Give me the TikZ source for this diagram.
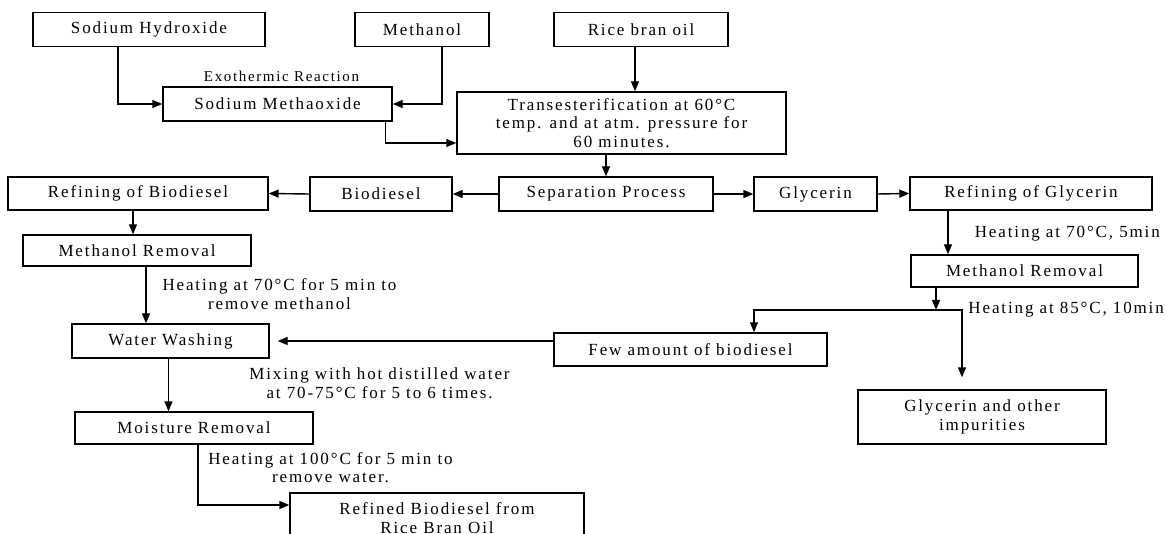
\documentclass[tikz,border=0pt]{standalone}
\usepackage{fontspec}
\setmainfont{Liberation Serif}[LetterSpace=11]
\usetikzlibrary{arrows.meta}

\begin{document}
\begin{tikzpicture}[
    x=1pt, y=-1pt,
    every node/.style={font=\fontsize{17}{18.5}\selectfont},
    box/.style={draw, line width=1.4pt, minimum height=34pt, inner sep=2pt, align=center},
    note/.style={align=center, inner sep=0pt},
    flow/.style={draw, line width=1.4pt, -{Triangle[length=10pt,width=8pt]}}
]
\useasboundingbox (0,0) rectangle (1165,534);
\clip (0,0) rectangle (1165,534);

% inputs
\node[box, minimum width=232pt] (naoh) at (149,29.5) {Sodium Hydroxide};
\node[box, minimum width=134pt] (meoh) at (422,29.5) {Methanol};
\node[box, minimum width=174pt] (oil) at (641,29.5) {Rice bran oil};
\node[box, minimum width=229pt] (meth) at (277.5,104) {Sodium Methaoxide};
\node[note, font=\fontsize{15}{17}\selectfont] (exo) at (281.5,76) {Exothermic Reaction};
\node[box, minimum width=329pt, minimum height=62pt] (trans) at (621.5,123)
    {Transesterification at 60°C\\temp. and at atm. pressure for\\60 minutes.};

% separation row
\node[box, minimum width=214pt] (sep) at (606,194) {Separation Process};
\node[box, minimum width=142pt] (bio) at (381,194) {Biodiesel};
\node[box, minimum width=260pt, minimum height=33pt] (refb) at (138,193.5) {Refining of Biodiesel};
\node[box, minimum width=123pt] (glyc) at (815.5,194) {Glycerin};
\node[box, minimum width=242pt, minimum height=33pt] (refg) at (1031,193.5) {Refining of Glycerin};

% biodiesel side
\node[box, minimum width=228pt, minimum height=31pt] (mrl) at (137,250.5) {Methanol Removal};
\node[note] (heat1) at (279.5,294) {Heating at 70°C for 5 min to\\remove methanol};
\node[box, minimum width=197pt] (wash) at (170.5,341) {Water Washing};
\node[note] (mix) at (379.5,383) {Mixing with hot distilled water\\at 70-75°C for 5 to 6 times.};
\node[box, minimum width=238pt, minimum height=32pt] (moist) at (194,428) {Moisture Removal};
\node[note] (heat2) at (330.5,467.5) {Heating at 100°C for 5 min to\\remove water.};
\node[box, minimum width=294pt, minimum height=50pt] (final) at (437,518)
    {Refined Biodiesel from\\Rice Bran Oil};

% glycerin side
\node[note, anchor=east] (heat3) at (1160,234) {Heating at 70°C, 5min};
\node[box, minimum width=227pt, minimum height=32pt] (mrr) at (1024.5,271) {Methanol Removal};
\node[note, anchor=east] (heat4) at (1164,310) {Heating at 85°C, 10min};
\node[box, minimum width=273pt, minimum height=33pt] (few) at (690.5,349.5) {Few amount of biodiesel};
\node[box, minimum width=248pt, minimum height=54pt] (imp) at (982,417)
    {Glycerin and other\\impurities};
\coordinate (split) at (936,310);

% connectors
\draw[flow] ([xshift=-31pt]naoh.south) |- (meth.west);
\draw[flow] ([xshift=20pt]meoh.south) |- (meth.east);
\draw[flow] ([xshift=-7pt]meth.south east) |- ([yshift=-20pt]trans.west);
\draw[flow] ([xshift=-6pt]oil.south) -- ([xshift=-6pt]oil.south |- trans.north);
\draw[flow] (trans.south -| sep.north) -- (sep.north);
\draw[flow] (sep.west) -- (bio.east);
\draw[flow] (bio.west) -- (refb.east);
\draw[flow] (sep.east) -- (glyc.west);
\draw[flow] (glyc.east) -- (refg.west);
\draw[flow] ([xshift=-5pt]refb.south) -- ([xshift=-5pt]refb.south |- mrl.north);
\draw[flow] ([xshift=9pt]mrl.south) -- ([xshift=9pt]mrl.south |- wash.north);
\draw[flow] (few.west |- wash.east) -- ([xshift=8pt]wash.east);
\draw[flow] ([xshift=-2pt]wash.south) -- ([xshift=-2pt]wash.south |- moist.north);
\draw[flow] ([xshift=4pt]moist.south) |- ([yshift=13pt]final.west);
\draw[flow] ([xshift=-83pt]refg.south) -- ([xshift=-83pt]refg.south |- mrr.north);
\draw[flow] (mrr.south -| split) -- (split);
\draw[flow] (split) -| ([xshift=63.5pt]few.north);
\draw[flow] (split) -| ([xshift=-20pt,yshift=12pt]imp.north);
\end{tikzpicture}
\end{document}
